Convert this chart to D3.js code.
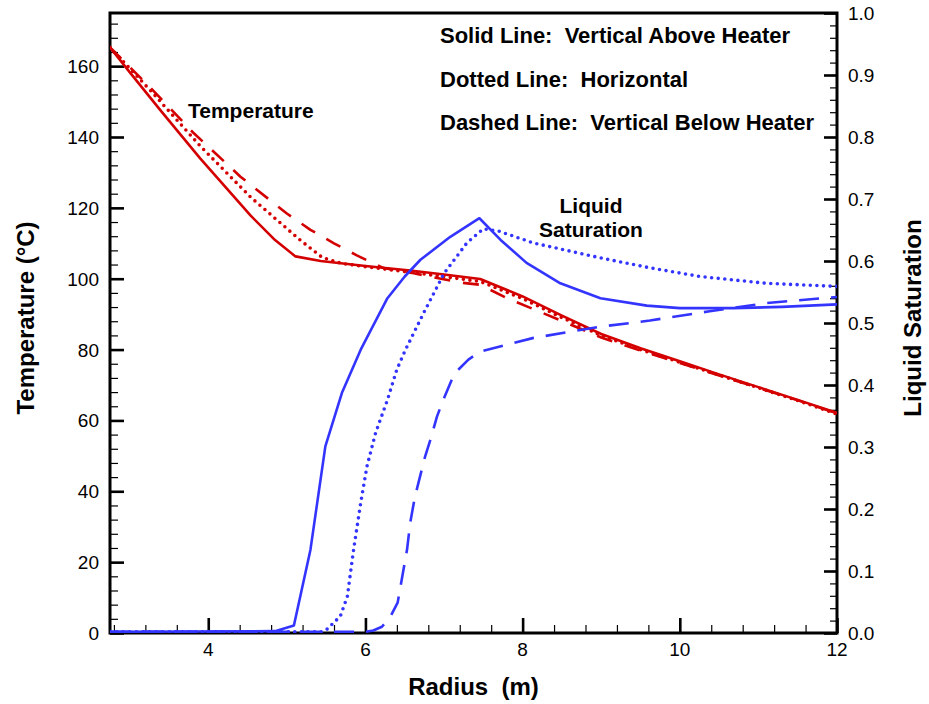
<!DOCTYPE html>
<html>
<head>
<meta charset="utf-8">
<script src="https://cdn.jsdelivr.net/npm/d3@7"></script>
<style>
  body { margin: 0; background: #fff; }
  svg { font-family: "Liberation Sans", Arial, Helvetica, sans-serif; }
  .tickLabel { font-size: 19px; fill: #000; }
</style>
</head>
<body>
<div id="chart"></div>
<script>
// values (radius in m, temperature in C, saturation 0-1)
const tempSolidR = [2.75, 3.0, 3.39, 3.9, 4.54, 4.85, 5.11, 5.43, 6.0, 6.57, 7.0, 7.46, 8.0, 8.5, 9.0, 9.5, 10.0, 10.5, 11.0, 11.5, 12.0];
const tempSolidT = [165.3, 158.3, 147.6, 133.9, 117.8, 110.9, 106.3, 105.0, 103.6, 102.3, 101.2, 99.9, 95.0, 89.6, 84.4, 80.4, 76.7, 73.0, 69.4, 65.8, 62.1];

const tempDotR = [2.75, 3.27, 3.9, 4.54, 5.17, 5.45, 5.7, 6.0, 6.5, 7.0, 7.46, 8.0, 8.5, 9.0, 9.5, 10.0, 10.5, 11.0, 11.5, 12.0];
const tempDotT = [165.3, 153.0, 137.4, 123.0, 110.9, 106.0, 104.3, 103.4, 102.0, 100.6, 99.2, 94.4, 89.0, 84.0, 80.0, 76.4, 72.8, 69.2, 65.6, 61.8];

const tempDashR = [2.75, 3.27, 3.81, 4.41, 5.0, 5.3, 5.6, 5.89, 6.23, 6.6, 7.21, 7.46, 7.8, 8.26, 9.0, 9.5, 10.0, 10.5, 11.0, 11.5, 12.0];
const tempDashT = [165.3, 153.8, 141.2, 128.8, 118.4, 113.8, 110.0, 106.6, 103.0, 101.6, 98.9, 98.3, 94.5, 90.3, 83.4, 79.7, 76.2, 72.7, 69.2, 65.7, 62.0];

const satSolidR = [2.75, 4.85, 5.09, 5.3, 5.49, 5.7, 5.94, 6.28, 6.5, 6.7, 7.08, 7.45, 7.72, 8.05, 8.48, 8.99, 9.58, 10.0, 10.68, 11.3, 12.0];
const satSolidS = [0.002, 0.003, 0.012, 0.134, 0.301, 0.387, 0.457, 0.54, 0.575, 0.602, 0.639, 0.669, 0.634, 0.597, 0.564, 0.54, 0.528, 0.524, 0.524, 0.526, 0.53];

const satDotR = [2.75, 5.45, 5.51, 5.68, 5.77, 5.85, 5.94, 6.02, 6.13, 6.28, 6.4, 6.51, 6.74, 7.0, 7.29, 7.5, 7.7, 8.14, 8.99, 9.62, 10.26, 11.1, 12.0];
const satDotS = [0.002, 0.002, 0.006, 0.027, 0.059, 0.135, 0.21, 0.269, 0.323, 0.376, 0.425, 0.457, 0.516, 0.58, 0.629, 0.652, 0.648, 0.629, 0.605, 0.589, 0.575, 0.564, 0.559];

const satDashR = [2.75, 6.0, 6.1, 6.21, 6.32, 6.41, 6.47, 6.53, 6.57, 6.63, 6.7, 6.76, 6.83, 6.91, 6.99, 7.1, 7.16, 7.31, 7.46, 8.14, 8.99, 9.62, 10.38, 11.1, 12.0];
const satDashS = [0.002, 0.002, 0.004, 0.01, 0.027, 0.049, 0.092, 0.135, 0.178, 0.22, 0.255, 0.285, 0.313, 0.349, 0.376, 0.409, 0.422, 0.441, 0.454, 0.476, 0.494, 0.504, 0.519, 0.532, 0.542];

const xTicks = [4, 6, 8, 10, 12];
const tempTicks = [0, 20, 40, 60, 80, 100, 120, 140, 160];
const satTicks = [0, 0.1, 0.2, 0.3, 0.4, 0.5, 0.6, 0.7, 0.8, 0.9, 1.0];
const legendLines = ["Solid Line:  Vertical Above Heater", "Dotted Line:  Horizontal", "Dashed Line:  Vertical Below Heater"];

const width = 929, height = 704;
const plotL = 110, plotR = 837, plotT = 13, plotB = 633;
const red = "#d40000", blue = "#3434ff";

const svg = d3.select("#chart")
  .append("svg")
  .attr("width", width)
  .attr("height", height);

// scales
const x = d3.scaleLinear().domain([2.75, 12]).range([plotL, plotR]);
const yT = d3.scaleLinear().domain([0, 175]).range([plotB, plotT]);
const yS = d3.scaleLinear().domain([0, 1]).range([plotB, plotT]);

// axes: ticks only (pointing into the plot), labels drawn below
function styleAxis(g, w) {
  g.select(".domain").remove();
  g.selectAll(".tick text").remove();
  g.selectAll(".tick line").attr("stroke", "#000").attr("stroke-width", w);
}

svg.append("g")
  .attr("transform", `translate(0,${plotB})`)
  .call(d3.axisBottom(x).tickValues(d3.range(7, 31).map((i) => i * 0.4)).tickSize(-8))
  .call((g) => styleAxis(g, 1.2));
svg.append("g")
  .attr("transform", `translate(0,${plotB})`)
  .call(d3.axisBottom(x).tickValues(xTicks).tickSize(-15))
  .call((g) => styleAxis(g, 2.6));

svg.append("g")
  .attr("transform", `translate(${plotL},0)`)
  .call(d3.axisLeft(yT).tickValues(d3.range(0, 44).map((i) => i * 4)).tickSize(-8))
  .call((g) => styleAxis(g, 1.2));
svg.append("g")
  .attr("transform", `translate(${plotL},0)`)
  .call(d3.axisLeft(yT).tickValues(tempTicks).tickSize(-14))
  .call((g) => styleAxis(g, 2.6));

svg.append("g")
  .attr("transform", `translate(${plotR},0)`)
  .call(d3.axisRight(yS).tickValues(d3.range(0, 51).map((i) => i * 0.02)).tickSize(-7))
  .call((g) => styleAxis(g, 1.2));
svg.append("g")
  .attr("transform", `translate(${plotR},0)`)
  .call(d3.axisRight(yS).tickValues(satTicks).tickSize(-13))
  .call((g) => styleAxis(g, 2.6));

// tick labels
svg.selectAll(".xLabel")
  .data(xTicks)
  .enter()
  .append("text")
  .attr("class", "tickLabel")
  .attr("x", (d) => x(d))
  .attr("y", 656)
  .attr("text-anchor", "middle")
  .text((d) => d);

svg.selectAll(".tLabel")
  .data(tempTicks)
  .enter()
  .append("text")
  .attr("class", "tickLabel")
  .attr("x", 99)
  .attr("y", (d) => yT(d) + 7)
  .attr("text-anchor", "end")
  .text((d) => d);

svg.selectAll(".sLabel")
  .data(satTicks)
  .enter()
  .append("text")
  .attr("class", "tickLabel")
  .attr("x", 848)
  .attr("y", (d) => yS(d) + 7)
  .text((d) => d3.format(".1f")(d));

// frame
svg.append("rect")
  .attr("x", plotL)
  .attr("y", plotT)
  .attr("width", plotR - plotL)
  .attr("height", plotB - plotT)
  .attr("fill", "none")
  .attr("stroke", "#000")
  .attr("stroke-width", 3);

// lines
svg.append("clipPath")
  .attr("id", "plotClip")
  .append("rect")
  .attr("x", plotL)
  .attr("y", plotT)
  .attr("width", plotR - plotL)
  .attr("height", plotB - plotT);

const series = [
  { r: tempSolidR, v: tempSolidT, y: yT, color: red, dash: null },
  { r: tempDotR, v: tempDotT, y: yT, color: red, dash: "dot" },
  { r: tempDashR, v: tempDashT, y: yT, color: red, dash: "16,13" },
  { r: satSolidR, v: satSolidS, y: yS, color: blue, dash: null },
  { r: satDotR, v: satDotS, y: yS, color: blue, dash: "dot" },
  { r: satDashR, v: satDashS, y: yS, color: blue, dash: "20,12" },
];

const plot = svg.append("g").attr("clip-path", "url(#plotClip)");
series.forEach((s) => {
  const line = d3.line()
    .x((d, i) => x(s.r[i]))
    .y((d) => s.y(d));
  plot.append("path")
    .datum(s.v)
    .attr("fill", "none")
    .attr("stroke", s.color)
    .attr("stroke-width", s.dash == "dot" ? 3.6 : 2.6)
    .attr("stroke-linecap", s.dash == "dot" ? "round" : "butt")
    .attr("stroke-linejoin", "round")
    .attr("stroke-dasharray", s.dash == "dot" ? "0,6.6" : s.dash)
    .attr("d", line);
});

// axis titles
svg.append("text")
  .attr("transform", "translate(34,318) rotate(-90)")
  .attr("text-anchor", "middle")
  .style("font-size", "24px")
  .style("font-weight", "bold")
  .text("Temperature (°C)");

svg.append("text")
  .attr("transform", "translate(921,318) rotate(-90)")
  .attr("text-anchor", "middle")
  .style("font-size", "24px")
  .style("font-weight", "bold")
  .text("Liquid Saturation");

svg.append("text")
  .attr("x", (plotL + plotR) / 2)
  .attr("y", 695)
  .attr("text-anchor", "middle")
  .style("font-size", "24px")
  .style("font-weight", "bold")
  .style("white-space", "pre")
  .text("Radius  (m)");

// labels inside the plot
svg.append("text")
  .attr("x", 188)
  .attr("y", 118)
  .style("font-size", "21px")
  .style("font-weight", "bold")
  .text("Temperature");

svg.selectAll(".satLabel")
  .data(["Liquid", "Saturation"])
  .enter()
  .append("text")
  .attr("x", 591)
  .attr("y", (d, i) => 213 + i * 23.5)
  .attr("text-anchor", "middle")
  .style("font-size", "21px")
  .style("font-weight", "bold")
  .text((d) => d);

svg.selectAll(".legendLine")
  .data(legendLines)
  .enter()
  .append("text")
  .attr("x", 440)
  .attr("y", (d, i) => 43 + i * 43.7)
  .style("font-size", "22px")
  .style("font-weight", "bold")
  .style("white-space", "pre")
  .text((d) => d);
</script>
</body>
</html>
